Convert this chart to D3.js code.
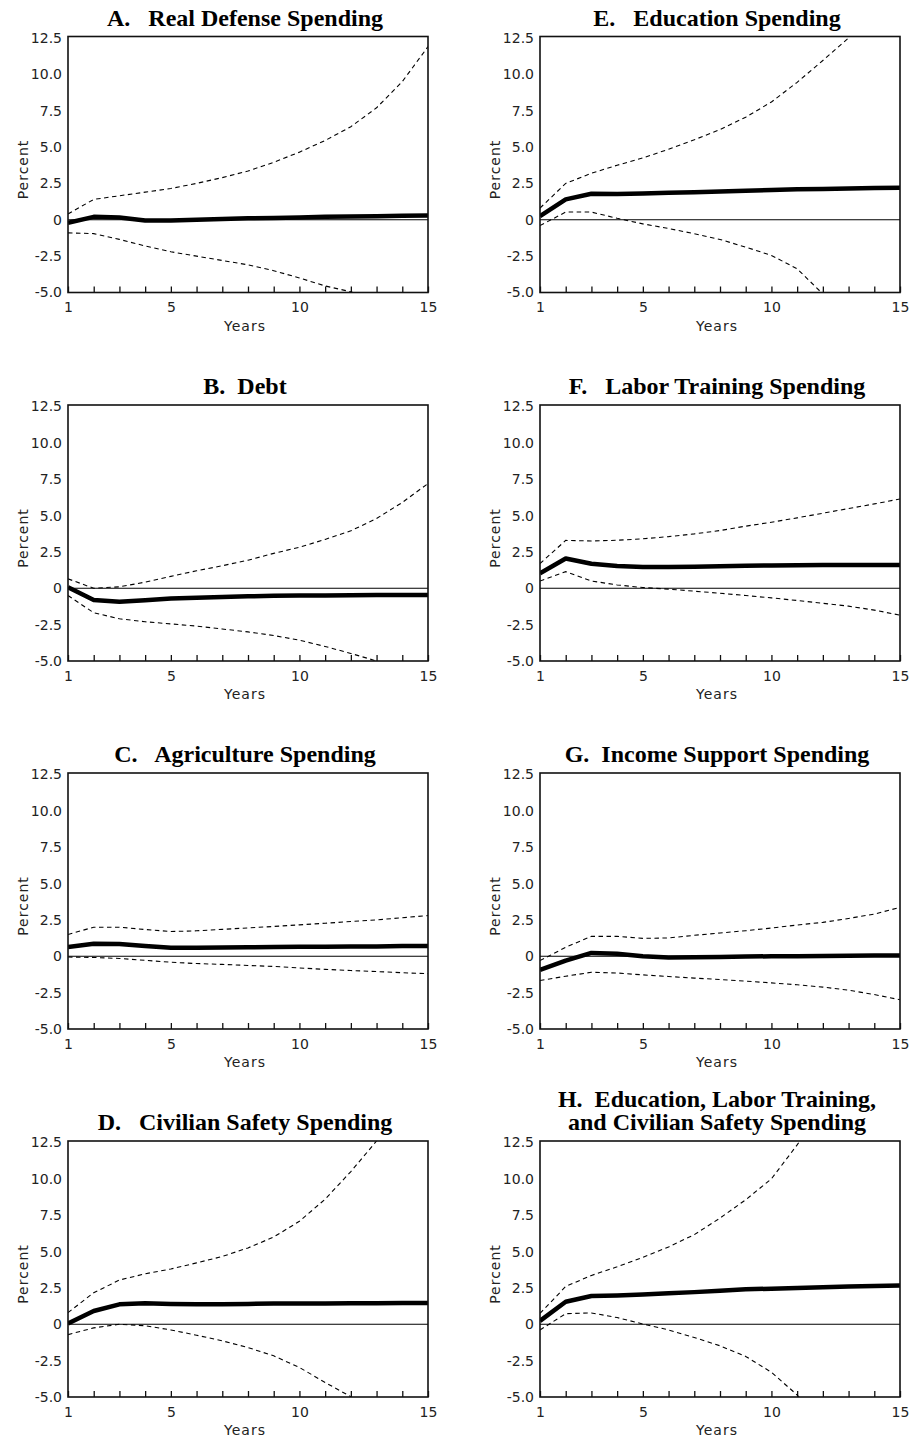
<!DOCTYPE html>
<html>
<head>
<meta charset="utf-8">
<script src="https://cdn.jsdelivr.net/npm/d3@7"></script>
<style>
  body { margin: 0; background: #fff; }
  svg { display: block; }
  .axis text { font-family: "DejaVu Sans", sans-serif; font-size: 14px; fill: #222; }
  .axis-title { font-family: "DejaVu Sans", sans-serif; font-size: 14px; fill: #222; letter-spacing: 1px; }
  .title { font-family: "Liberation Serif", "Times New Roman", serif; font-weight: bold; font-size: 24px; fill: #000; }
</style>
</head>
<body>
<svg width="911" height="1439"></svg>
<script>
const years = d3.range(1, 16);
const yTicks = [-5, -2.5, 0, 2.5, 5, 7.5, 10, 12.5];
const xLabels = [1, 5, 10, 15];

// A. Real Defense Spending
const defenseMid = [-0.2, 0.2, 0.15, -0.05, -0.05, 0, 0.05, 0.1, 0.12, 0.15, 0.2, 0.22, 0.25, 0.27, 0.3];
const defenseHi = [0.4, 1.4, 1.65, 1.9, 2.15, 2.5, 2.9, 3.35, 3.95, 4.65, 5.45, 6.4, 7.7, 9.5, 11.9];
const defenseLo = [-0.9, -0.95, -1.35, -1.8, -2.2, -2.5, -2.8, -3.1, -3.5, -4.0, -4.55, -4.95, -5.6, null, null];

// B. Debt
const debtMid = [0.07, -0.8, -0.93, -0.82, -0.7, -0.65, -0.6, -0.55, -0.52, -0.5, -0.5, -0.48, -0.47, -0.47, -0.47];
const debtHi = [0.65, 0.0, 0.1, 0.42, 0.82, 1.2, 1.55, 1.93, 2.4, 2.82, 3.36, 3.95, 4.8, 5.9, 7.2];
const debtLo = [-0.5, -1.68, -2.1, -2.3, -2.45, -2.6, -2.8, -3.0, -3.25, -3.57, -4.0, -4.48, -5.0, -5.6, null];

// C. Agriculture Spending
const agriMid = [0.64, 0.86, 0.84, 0.7, 0.59, 0.58, 0.6, 0.62, 0.63, 0.65, 0.65, 0.67, 0.68, 0.7, 0.7];
const agriHi = [1.5, 2.0, 2.0, 1.84, 1.7, 1.75, 1.85, 1.95, 2.05, 2.16, 2.27, 2.39, 2.5, 2.65, 2.8];
const agriLo = [-0.05, -0.08, -0.15, -0.28, -0.41, -0.5, -0.56, -0.63, -0.7, -0.8, -0.9, -0.98, -1.05, -1.13, -1.2];

// D. Civilian Safety Spending
const safetyMid = [0.05, 0.91, 1.37, 1.44, 1.4, 1.38, 1.38, 1.4, 1.42, 1.43, 1.43, 1.45, 1.45, 1.46, 1.46];
const safetyHi = [0.8, 2.17, 3.04, 3.47, 3.8, 4.22, 4.66, 5.25, 6.0, 7.08, 8.6, 10.5, 12.6, 15.0, null];
const safetyLo = [-0.71, -0.25, 0.0, -0.1, -0.39, -0.75, -1.14, -1.6, -2.17, -2.97, -4.0, -4.98, -6.0, null, null];

// E. Education Spending
const eduMid = [0.25, 1.4, 1.79, 1.78, 1.8, 1.85, 1.9, 1.95, 2.0, 2.05, 2.1, 2.12, 2.15, 2.18, 2.2];
const eduHi = [0.8, 2.5, 3.2, 3.75, 4.25, 4.85, 5.5, 6.2, 7.05, 8.1, 9.45, 10.95, 12.5, 14.5, null];
const eduLo = [-0.4, 0.53, 0.53, 0.1, -0.28, -0.6, -0.96, -1.35, -1.88, -2.45, -3.37, -5.1, -7.0, null, null];

// F. Labor Training Spending
const laborMid = [1.03, 2.05, 1.69, 1.53, 1.46, 1.46, 1.48, 1.52, 1.55, 1.57, 1.58, 1.6, 1.6, 1.6, 1.6];
const laborHi = [1.7, 3.29, 3.25, 3.3, 3.4, 3.55, 3.74, 3.97, 4.27, 4.54, 4.84, 5.16, 5.48, 5.8, 6.14];
const laborLo = [0.5, 1.14, 0.5, 0.23, 0.05, -0.06, -0.2, -0.34, -0.5, -0.66, -0.84, -1.03, -1.23, -1.5, -1.85];

// G. Income Support Spending
const incomeMid = [-0.94, -0.3, 0.23, 0.17, 0.0, -0.09, -0.07, -0.05, -0.02, 0.0, 0.0, 0.02, 0.03, 0.05, 0.05];
const incomeHi = [-0.3, 0.62, 1.37, 1.37, 1.23, 1.26, 1.44, 1.6, 1.76, 1.94, 2.15, 2.33, 2.6, 2.9, 3.36];
const incomeLo = [-1.67, -1.37, -1.1, -1.15, -1.28, -1.39, -1.5, -1.6, -1.71, -1.83, -1.96, -2.12, -2.33, -2.63, -2.99];

// H. Education, Labor Training, and Civilian Safety Spending
const comboMid = [0.23, 1.55, 1.94, 1.98, 2.05, 2.13, 2.21, 2.31, 2.4, 2.45, 2.5, 2.55, 2.6, 2.63, 2.67];
const comboHi = [0.75, 2.6, 3.36, 3.95, 4.6, 5.32, 6.16, 7.3, 8.56, 10.0, 12.33, 15.0, null, null, null];
const comboLo = [-0.39, 0.73, 0.78, 0.46, 0.02, -0.39, -0.91, -1.48, -2.21, -3.3, -4.86, -7.0, null, null, null];

const panels = [
  { title: ["A.   Real Defense Spending"], mid: defenseMid, hi: defenseHi, lo: defenseLo, col: 0, row: 0 },
  { title: ["B.  Debt"], mid: debtMid, hi: debtHi, lo: debtLo, col: 0, row: 1 },
  { title: ["C.   Agriculture Spending"], mid: agriMid, hi: agriHi, lo: agriLo, col: 0, row: 2 },
  { title: ["D.   Civilian Safety Spending"], mid: safetyMid, hi: safetyHi, lo: safetyLo, col: 0, row: 3 },
  { title: ["E.   Education Spending"], mid: eduMid, hi: eduHi, lo: eduLo, col: 1, row: 0 },
  { title: ["F.   Labor Training Spending"], mid: laborMid, hi: laborHi, lo: laborLo, col: 1, row: 1 },
  { title: ["G.  Income Support Spending"], mid: incomeMid, hi: incomeHi, lo: incomeLo, col: 1, row: 2 },
  { title: ["H.  Education, Labor Training,", "and Civilian Safety Spending"], mid: comboMid, hi: comboHi, lo: comboLo, col: 1, row: 3 }
];

const svg = d3.select("svg");
const colLeft = [68, 540];
const rowTop = [36.5, 405, 773, 1141];
const plotW = 360;
const plotH = 256;

const x = d3.scaleLinear().domain([1, 15]).range([0, plotW]);
const y = d3.scaleLinear().domain([-5, 12.6]).range([plotH, 0]);

const line = d3.line()
  .defined((d) => d.v !== null)
  .x((d) => x(d.year))
  .y((d) => y(d.v));

// plain hyphen for negatives, as in the original
const fmtY = (d) => (d === 0 ? "0" : d3.format(".1f")(d).replace("\u2212", "-"));

panels.forEach((p, i) => {
  const g = svg.append("g")
    .attr("transform", `translate(${colLeft[p.col]},${rowTop[p.row]})`);

  g.append("clipPath")
    .attr("id", `clip${i}`)
    .append("rect")
    .attr("width", plotW)
    .attr("height", plotH);

  // x axis: inward ticks every year, labels at 1, 5, 10, 15
  const xAxis = g.append("g")
    .attr("class", "axis")
    .attr("transform", `translate(0,${plotH})`)
    .call(d3.axisBottom(x)
      .tickValues(years)
      .tickSize(-6)
      .tickPadding(10)
      .tickFormat((d) => (xLabels.includes(d) ? d : "")));
  xAxis.select(".domain").remove();
  xAxis.selectAll("line").attr("stroke", "#111").attr("stroke-width", 1.3);

  const yAxis = g.append("g")
    .attr("class", "axis")
    .call(d3.axisLeft(y)
      .tickValues(yTicks)
      .tickSize(0)
      .tickPadding(6)
      .tickFormat(fmtY));
  yAxis.select(".domain").remove();

  // zero line
  g.append("line")
    .attr("x1", 0)
    .attr("x2", plotW)
    .attr("y1", y(0))
    .attr("y2", y(0))
    .attr("stroke", "#000")
    .attr("stroke-width", 1.2);

  const lines = g.append("g").attr("clip-path", `url(#clip${i})`);
  [p.hi, p.lo].forEach((s) => {
    lines.append("path")
      .datum(years.map((yr, k) => ({ year: yr, v: s[k] })))
      .attr("d", line)
      .attr("fill", "none")
      .attr("stroke", "#000")
      .attr("stroke-width", 1.1)
      .attr("stroke-dasharray", "4.5,3.5");
  });
  lines.append("path")
    .datum(years.map((yr, k) => ({ year: yr, v: p.mid[k] })))
    .attr("d", line)
    .attr("fill", "none")
    .attr("stroke", "#000")
    .attr("stroke-width", 4.5)
    .attr("stroke-linejoin", "round");

  // frame
  g.append("rect")
    .attr("width", plotW)
    .attr("height", plotH)
    .attr("fill", "none")
    .attr("stroke", "#111")
    .attr("stroke-width", 1.6);

  g.append("text")
    .attr("class", "axis-title")
    .attr("text-anchor", "middle")
    .attr("x", plotW / 2 - 3)
    .attr("y", plotH + 38)
    .text("Years");

  g.append("text")
    .attr("class", "axis-title")
    .attr("text-anchor", "middle")
    .attr("transform", `translate(-40,${plotH / 2 + 5}) rotate(-90)`)
    .text("Percent");

  const title = g.append("text")
    .attr("class", "title")
    .attr("text-anchor", "middle")
    .attr("xml:space", "preserve")
    .style("white-space", "pre");
  const n = p.title.length;
  p.title.forEach((t, k) => {
    title.append("tspan")
      .attr("x", plotW / 2 - 3)
      .attr("y", -11 - (n - 1 - k) * 23)
      .text(t);
  });
});
</script>
</body>
</html>
